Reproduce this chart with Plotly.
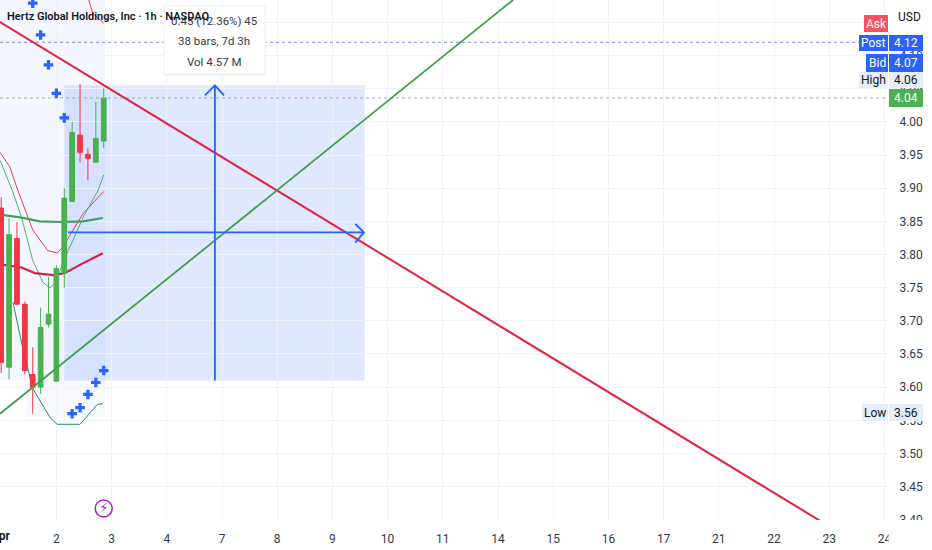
import plotly.graph_objects as go

# ---- data (bar index, price) ----
bars = list(range(14))
opens  = [3.870,3.630,3.824,3.725,3.619,3.600,3.695,3.609,3.773,3.880,3.980,3.951,3.939,3.971]
closes = [3.637,3.830,3.725,3.625,3.600,3.690,3.710,3.779,3.885,3.984,3.954,3.945,3.975,4.036]
highs  = [3.886,3.855,3.849,3.729,3.660,3.720,3.766,3.784,3.900,4.000,4.057,3.960,4.030,4.051]
lows   = [3.621,3.612,3.725,3.619,3.560,3.590,3.690,3.609,3.750,3.880,3.939,3.912,3.939,3.960]

ema_g_x = [-0.15,0.5,2.4,4.9,7.7,10.4,12.9]
ema_g_y = [3.860,3.859,3.856,3.850,3.849,3.850,3.855]
ema_r_x = [-0.15,0.5,2.4,4.3,6.6,8.1,10.4,12.9]
ema_r_y = [3.785,3.784,3.781,3.772,3.769,3.772,3.787,3.802]
band_r_x = [-0.15,1.1,2.1,4.0,5.9,7.1,7.8,10.4,13.0]
band_r_y = [3.954,3.932,3.897,3.837,3.806,3.802,3.811,3.862,3.895]
band_r2_x = [11.1,11.6,12.2,13.0]
band_r2_y = [4.184,4.164,4.157,4.149]
band_g_x = [-0.15,1.4,2.6,4.0,5.3,6.2,6.8,8.5,10.4,12.3,13.0]
band_g_y = [3.942,3.897,3.855,3.791,3.758,3.750,3.756,3.806,3.856,3.897,3.920]
band_t_x = [1.5,2.6,4.0,6.2,7.1,10.0,12.2,12.9]
band_t_y = [3.728,3.666,3.598,3.554,3.544,3.544,3.574,3.575]

plus_hi_x = [4,5,6,7,8]
plus_hi_y = [4.179,4.131,4.086,4.043,4.006]
plus_lo_x = [9,10,11,12,13]
plus_lo_y = [3.560,3.569,3.589,3.607,3.625]

red_line_x = [-0.15,103.8]
red_line_y = [4.1505,3.3987]
green_line_x = [-0.15,64.9]
green_line_y = [3.560,4.1837]

post_price = 4.12
last_price = 4.036
range_x = [8.0,46.1]
range_y = [3.61,4.055]
mid_x = 27.1
mid_y = 3.8335

tick_vals = [7,14,21,28,35,42,49,56,63,70,77,84,91,98,105,112]
tick_text = ["2","3","4","7","8","9","10","11","14","15","16","17","21","22","23","24"]
price_ticks = [3.40,3.45,3.50,3.55,3.60,3.65,3.70,3.75,3.80,3.85,3.90,3.95,4.00,4.05,4.10,4.15]
price_text = ["3.40","3.45","3.50","3.55","3.60","3.65","3.70","3.75","3.80","3.85","3.90","3.95","4.00","4.05","4.10",""]

W, H = 932, 550
PL, PR, PB = 0, 888, 520
XR = [-0.15, 112.45]
YR = [3.3997, 4.1837]
FONT = "Roboto"
BLUE = "#2962ff"
def px(x): return (x - PL) / (PR - PL)
def py(y): return 1 - y / PB

fig = go.Figure()
def line(x, y, color, width, dash=None, ya="y"):
    fig.add_trace(go.Scatter(x=x, y=y, mode="lines", yaxis=ya, hoverinfo="skip", showlegend=False,
                             line=dict(color=color, width=width, dash=dash)))

# indicators (beneath the candles)
line(band_r_x, band_r_y, "#e2405c", 1)
line(band_r2_x, band_r2_y, "#e2405c", 1)
line(band_g_x, band_g_y, "#4caf6e", 1)
line(band_t_x, band_t_y, "#26897a", 1)
line(ema_g_x, ema_g_y, "#43a05a", 2.2)
line(ema_r_x, ema_r_y, "#d9203f", 2.2)

# candles
fig.add_trace(go.Candlestick(x=bars, open=opens, high=highs, low=lows, close=closes, yaxis="y2",
    increasing=dict(line=dict(color="#4caf50", width=1), fillcolor="#4caf50"),
    decreasing=dict(line=dict(color="#f23645", width=1), fillcolor="#f23645"),
    whiskerwidth=0, hoverinfo="skip", showlegend=False))

# drawings on top
line(XR, [post_price]*2, "#7f8fcf", 1, "dot", "y3")
line(XR, [last_price]*2, "#8fb89a", 1, "dot", "y3")
line(red_line_x, red_line_y, "#e0263f", 2, None, "y3")
line(green_line_x, green_line_y, "#43a047", 1.8, None, "y3")
line([mid_x, mid_x], range_y, BLUE, 1.8, None, "y3")
line([25.84, mid_x, 28.25], [4.040, range_y[1], 4.040], BLUE, 1.8, None, "y3")
line([range_x[0]+0.47, range_x[1]-0.1], [mid_y, mid_y], BLUE, 1.8, None, "y3")
line([44.9, range_x[1]-0.1, 44.9], [3.846, mid_y, 3.818], BLUE, 1.8, None, "y3")
for xs, ys in ((plus_hi_x, plus_hi_y), (plus_lo_x, plus_lo_y)):
    fig.add_trace(go.Scatter(x=xs, y=ys, mode="markers", yaxis="y3", hoverinfo="skip", showlegend=False,
                             marker=dict(symbol="cross", size=8, color=BLUE, line=dict(width=0))))
fig.add_trace(go.Scatter(x=[13], y=[3.417], mode="markers+text", yaxis="y3", hoverinfo="skip", showlegend=False,
                         text=["⚡"], textposition="middle center",
                         textfont=dict(size=13, color="#9c27b0", family="DejaVu Sans"),
                         marker=dict(symbol="circle-open", size=17, color="#9c27b0", line=dict(width=1.5, color="#9c27b0"))))

shapes = [
    dict(type="rect", layer="below", xref="x", yref="y", x0=-1, x1=13.2, y0=3.61, y1=YR[1],
         fillcolor="rgba(41,98,255,0.05)", line_width=0),
    dict(type="rect", layer="below", xref="x", yref="y", x0=3, x1=13.2, y0=3.555, y1=3.61,
         fillcolor="rgba(41,98,255,0.035)", line_width=0),
    dict(type="rect", layer="below", xref="x", yref="y", x0=range_x[0], x1=range_x[1], y0=range_y[0], y1=range_y[1],
         fillcolor="rgba(41,98,255,0.15)", line_width=0),
]
def box(x0, x1, y0, y1, color, line_color=None):
    shapes.append(dict(type="rect", layer="above", xref="paper", yref="paper",
                       x0=px(x0), x1=px(x1), y0=py(y1), y1=py(y0), fillcolor=color,
                       line=dict(width=1 if line_color else 0, color=line_color or color)))
# clip the axis labels at the pane edges
box(888.5, 932, 520, 550, "#ffffff")
# tooltip
box(165, 266, 8, 76, "#f3f3f5")
box(164, 265, 6, 74, "#ffffff", "#f0f0f3")
# price axis tags
tags = [
    (864, 888, 15, 32, "#f7525f"), (859, 888, 35, 51, BLUE), (889, 923, 35, 51, BLUE),
    (866, 888, 54, 72, BLUE), (889, 923, 54, 72, BLUE),
    (859, 888, 72, 88, "#e6eefa"), (889, 923, 72, 88, "#e6eefa"),
    (889, 923, 89, 107, "#4caf50"),
    (862, 888, 404, 421, "#e6eefa"), (889, 923, 404, 421, "#e6eefa"),
]
for t in tags:
    box(*t)

def label(x, y, text, color="#131722", size=12, anchor="center", weight=None, family=FONT):
    fig.add_annotation(xref="paper", yref="paper", x=px(x), y=py(y), text=text, showarrow=False,
                       xanchor=anchor, yanchor="middle", align="center",
                       font=dict(family=family, size=size, color=color, weight=weight))

label(214, 21, "0.45 (12.36%) 45", "#333a47", 11.5)
label(214, 41, "38 bars, 7d 3h", "#333a47", 11.5)
label(214, 62, "Vol 4.57 M", "#333a47", 11.5)
label(5, 16, "Hertz Global Holdings, Inc · 1h · NASDAQ", "#131722", 11, "left", 600)
label(909, 17, "USD", "#131722", 12)
label(876, 24, "Ask", "#ffffff", 12)
label(873.5, 42.5, "Post", "#ffffff", 12)
label(906, 43, "4.12", "#ffffff", 12)
label(877, 63, "Bid", "#ffffff", 12)
label(906, 63, "4.07", "#ffffff", 12)
label(873.5, 80, "High", "#131722", 12)
label(906, 80, "4.06", "#131722", 12)
label(906, 98, "4.04", "#ffffff", 12)
label(875, 413, "Low", "#131722", 12)
label(906, 413, "3.56", "#131722", 12)
label(1, 536, "<b>Apr</b>", "#131722", 12)

GRID = "#f1f3f8"
yax = dict(range=YR, fixedrange=True)
fig.update_layout(
    width=W, height=H, autosize=False,
    margin=dict(l=PL, r=W-PR, t=0, b=H-PB),
    paper_bgcolor="#ffffff", plot_bgcolor="#ffffff",
    showlegend=False, shapes=shapes, hovermode=False,
    boxgap=0.15,
    xaxis=dict(range=XR, tickmode="array", tickvals=tick_vals, ticktext=tick_text,
               showgrid=True, gridcolor=GRID, gridwidth=1, zeroline=False, showline=False,
               ticks="outside", ticklen=8, tickcolor="rgba(255,255,255,0)",
               tickfont=dict(family=FONT, size=12, color="#333a47"),
               rangeslider=dict(visible=False), fixedrange=True),
    yaxis=dict(side="right", tickmode="array", tickvals=price_ticks, ticktext=price_text,
               showgrid=True, gridcolor=GRID, gridwidth=1, zeroline=False, showline=False,
               ticks="outside", ticklen=8, tickcolor="rgba(255,255,255,0)",
               tickfont=dict(family=FONT, size=12, color="#333a47"), **yax),
    yaxis2=dict(overlaying="y", side="right", visible=False, **yax),
    yaxis3=dict(overlaying="y", side="right", visible=False, **yax),
)
fig.write_html("out.html", post_script="document.body.style.margin='0';document.body.style.overflow='hidden';",
               config={"displayModeBar": False})
